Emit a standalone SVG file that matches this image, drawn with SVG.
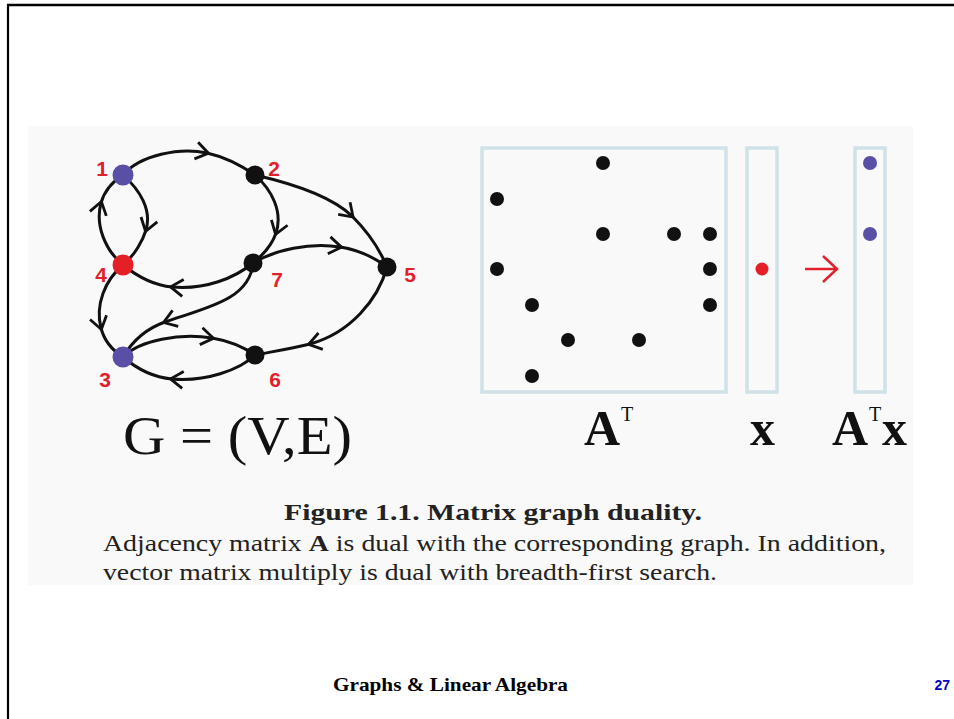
<svg xmlns="http://www.w3.org/2000/svg" width="954" height="719" viewBox="0 0 954 719">
<style>
.edge{fill:none;stroke:#111;stroke-width:3;marker-mid:url(#chev)}
.lbl{font-family:"Liberation Sans",Arial,sans-serif;font-weight:bold;font-size:21px;fill:#e0212b;text-anchor:middle}
.box{fill:none;stroke:#cfe2e8;stroke-width:3.5}
.dot{fill:#111}
.pur{fill:#5a4fa6}
.red{fill:#e41f26}
.big{font-family:"Liberation Serif","Times New Roman",serif;fill:#111}
.cap{font-family:"Liberation Serif","Times New Roman",serif;fill:#222}
</style>
<defs>
<marker id="chev" markerUnits="userSpaceOnUse" markerWidth="24" markerHeight="24" refX="0" refY="0" viewBox="-14 -12 18 24" orient="auto" overflow="visible">
<path d="M-11,-8.5 L1.5,0 L-11,8.5" fill="none" stroke="#111" stroke-width="2.8" stroke-linejoin="miter"/>
</marker>
</defs>
<rect x="0" y="0" width="954" height="719" fill="#fff"/>
<rect x="28" y="126" width="885" height="459" fill="#f9f9f9"/>
<line x1="7" y1="5" x2="954" y2="5" stroke="#000" stroke-width="2.5"/>
<line x1="8" y1="4" x2="8" y2="719" stroke="#000" stroke-width="2.2"/>

<g id="edges">
<path class="edge" d="M123,175 C140,155 180,147 207,153 C225,157 242,166 255,175"/>
<path class="edge" d="M255,175 C290,183 330,195 352,216 C368,232 380,250 387,267"/>
<path class="edge" d="M255,175 C272,190 283,212 276,233 C272,245 263,255 253,263"/>
<path class="edge" d="M253,263 C275,250 310,242 340,247 C360,250 375,258 387,267"/>
<path class="edge" d="M253,263 C235,278 205,290 172,287 C155,285.5 138,277 123,265"/>
<path class="edge" d="M123,175 C140,190 152,210 146,230 C143,240 135,255 123,265"/>
<path class="edge" d="M123,265 C105,250 95,225 101,203 C104,192 112,182 123,175"/>
<path class="edge" d="M123,265 C105,280 95,305 101,328 C104,340 112,350 123,357"/>
<path class="edge" d="M253,263 C250,300 205,308 165,322 C148,328 133,340 123,357"/>
<path class="edge" d="M123,357 C140,340 180,333 212,338 C230,341 245,348 255,355"/>
<path class="edge" d="M255,355 C240,370 205,382 172,379 C155,377.5 137,369 123,357"/>
<path class="edge" d="M387,267 C378,300 350,333 310,344 C290,349 270,352 255,355"/>
</g>

<g id="node1"><circle class="pur" cx="123" cy="175" r="10.5"/><text class="lbl" x="102" y="176">1</text></g>
<g id="node2"><circle class="dot" cx="255" cy="175" r="9.5"/><text class="lbl" x="274" y="176">2</text></g>
<g id="node4"><circle class="red" cx="123" cy="265" r="10.5"/><text class="lbl" x="101" y="282">4</text></g>
<g id="node7"><circle class="dot" cx="253" cy="263" r="9.5"/><text class="lbl" x="277" y="287">7</text></g>
<g id="node5"><circle class="dot" cx="387" cy="267" r="9.5"/><text class="lbl" x="410" y="282">5</text></g>
<g id="node3"><circle class="pur" cx="123" cy="357" r="10.5"/><text class="lbl" x="105" y="387">3</text></g>
<g id="node6"><circle class="dot" cx="255" cy="355" r="9.5"/><text class="lbl" x="275" y="387">6</text></g>

<text class="big" x="123" y="454" font-size="54" textLength="229" lengthAdjust="spacingAndGlyphs">G = (V,E)</text>

<g id="matrixAT">
<rect class="box" x="482" y="148" width="244" height="244"/>
<circle class="dot" cx="603" cy="163" r="7"/>
<circle class="dot" cx="497" cy="199" r="7"/>
<circle class="dot" cx="603" cy="234" r="7"/>
<circle class="dot" cx="674" cy="234" r="7"/>
<circle class="dot" cx="710" cy="234" r="7"/>
<circle class="dot" cx="497" cy="269" r="7"/>
<circle class="dot" cx="710" cy="269" r="7"/>
<circle class="dot" cx="532" cy="305" r="7"/>
<circle class="dot" cx="710" cy="305" r="7"/>
<circle class="dot" cx="568" cy="340" r="7"/>
<circle class="dot" cx="639" cy="340" r="7"/>
<circle class="dot" cx="532" cy="376" r="7"/>
<text class="big" x="584" y="445" font-size="50" font-weight="bold">A</text>
<text class="big" x="621" y="421" font-size="20">T</text>
</g>

<g id="vectorx">
<rect class="box" x="747" y="148" width="30" height="244"/>
<circle class="red" cx="762" cy="269" r="6.5"/>
<text class="big" x="750" y="445" font-size="50" font-weight="bold">x</text>
</g>

<g id="arrow">
<line x1="805" y1="269" x2="837" y2="269" stroke="#e0212b" stroke-width="2.5"/>
<path d="M823,256 L837,269 L823,282" fill="none" stroke="#e0212b" stroke-width="2.5"/>
</g>

<g id="result">
<rect class="box" x="855" y="148" width="30" height="244"/>
<circle class="pur" cx="870" cy="163" r="7"/>
<circle class="pur" cx="870" cy="234" r="7"/>
<text class="big" x="832" y="445" font-size="50" font-weight="bold">A</text>
<text class="big" x="869" y="421" font-size="20">T</text>
<text class="big" x="882" y="445" font-size="50" font-weight="bold">x</text>
</g>

<text class="cap" x="284" y="520" font-size="23" font-weight="bold" textLength="418" lengthAdjust="spacingAndGlyphs">Figure 1.1. Matrix graph duality.</text>
<text class="cap" x="103" y="551" font-size="23" textLength="783" lengthAdjust="spacingAndGlyphs">Adjacency matrix <tspan font-weight="bold">A</tspan> is dual with the corresponding graph. In addition,</text>
<text class="cap" x="103" y="580" font-size="23" textLength="614" lengthAdjust="spacingAndGlyphs">vector matrix multiply is dual with breadth-first search.</text>

<text x="333" y="691" font-family="Liberation Serif,'Times New Roman',serif" font-weight="bold" font-size="19" fill="#000" textLength="235" lengthAdjust="spacingAndGlyphs">Graphs &amp; Linear Algebra</text>
<text x="950" y="690" font-family="Liberation Sans,Arial,sans-serif" font-weight="bold" font-size="14" fill="#0000cc" text-anchor="end">27</text>
</svg>
